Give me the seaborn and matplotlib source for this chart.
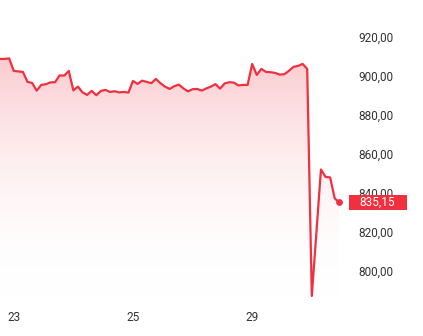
import numpy as np
import pandas as pd
import matplotlib
matplotlib.use("Agg")
import matplotlib.pyplot as plt
import seaborn as sns
from matplotlib.colors import LinearSegmentedColormap
from matplotlib.patches import Polygon, Rectangle
from matplotlib.transforms import blended_transform_factory

# ---- data ----
prices = [
    908.72, 908.72, 908.97, 902.56, 902.31, 902.05, 896.92, 896.41, 892.46, 895.38,
    895.74, 896.67, 896.77, 900.26, 900.15, 902.56, 892.56, 894.51, 891.54, 890.26,
    892.31, 890.10, 892.31, 892.82, 891.79, 892.15, 891.54, 891.79, 891.44, 897.44,
    895.90, 897.59, 896.92, 896.26, 898.46, 896.26, 894.51, 893.33, 894.72, 895.54,
    893.59, 892.05, 893.18, 893.33, 892.46, 893.59, 894.51, 895.79, 893.49, 896.15,
    896.77, 896.56, 895.13, 895.38, 895.38, 906.15, 900.51, 903.59, 902.05, 901.90,
    901.54, 900.67, 900.87, 902.56, 904.62, 905.13, 906.15, 903.59, 787.18, 819.49,
    852.05, 848.21, 847.95, 837.18, 835.15,
]
x_tick_pos = [3, 29, 55]
x_tick_labels = ["23", "25", "29"]
y_ticks = [800, 820, 840, 860, 880, 900, 920]
last_label = "835,15"

RED = "#f0303f"
W, H = 423, 336

sns.set_theme(style="white")
plt.rcParams['font.family'] = ['Roboto', 'DejaVu Sans']

fig = plt.figure(figsize=(W / 100, H / 100), dpi=100)
ax = fig.add_axes([0, (H - 300) / H, 339.3 / W, (300 - 10) / H])

n = len(prices)
df = pd.DataFrame({"i": np.arange(n), "price": prices})

ymin, ymax = 785.1, 933.8

# gradient fill under the line
verts = [(0, ymin)] + list(zip(df["i"], df["price"])) + [(n - 1, ymin)]
poly = Polygon(verts, closed=True, facecolor="none", edgecolor="none", transform=ax.transData)
ax.add_patch(poly)
cmap = LinearSegmentedColormap.from_list(
    "g", [(1, 1, 1, 0), (240 / 255, 48 / 255, 63 / 255, 0.25)])
grad = np.linspace(0, 1, 256).reshape(-1, 1)
im = ax.imshow(grad, extent=[0, n - 1, ymin, max(prices)], origin="lower",
               aspect="auto", cmap=cmap, zorder=1, interpolation="bilinear")
im.set_clip_path(poly)

sns.lineplot(data=df, x="i", y="price", color=RED, linewidth=1.6, ax=ax, zorder=3)
for ln in ax.lines:
    ln.set_clip_on(False)
ax.scatter([df["i"].iloc[-1]], [df["price"].iloc[-1]], s=24, color=RED, zorder=4,
           linewidths=0, clip_on=False)

ax.set_xlim(0, n - 1)
ax.set_ylim(ymin, ymax)
for s in ax.spines.values():
    s.set_visible(False)
ax.grid(False)
ax.set_xlabel("")
ax.set_ylabel("")

ax.yaxis.tick_right()
ax.set_yticks(y_ticks)
ax.set_yticklabels([f"{v:.2f}".replace(".", ",") for v in y_ticks])
ax.tick_params(axis="y", length=0, pad=13.7, labelsize=8.5, labelcolor="#333333")
ax.set_xticks(x_tick_pos)
ax.set_xticklabels(x_tick_labels)
ax.tick_params(axis="x", length=0, pad=8, labelsize=8.5, labelcolor="#333333")

# last value label
tr = blended_transform_factory(fig.transFigure, ax.transData)
px_per_unit = (300 - 10) / (ymax - ymin)
box_h = 14.3 / px_per_unit
last = prices[-1]
fig.add_artist(Rectangle((349 / W, last - box_h / 2), 58 / W, box_h,
                         transform=tr, facecolor=RED, edgecolor="none", zorder=5))
fig.text(359 / W, last, last_label, transform=tr, ha="left", va="center",
         color="white", fontsize=8.5, zorder=6)

fig.savefig("out.png", dpi=100)
